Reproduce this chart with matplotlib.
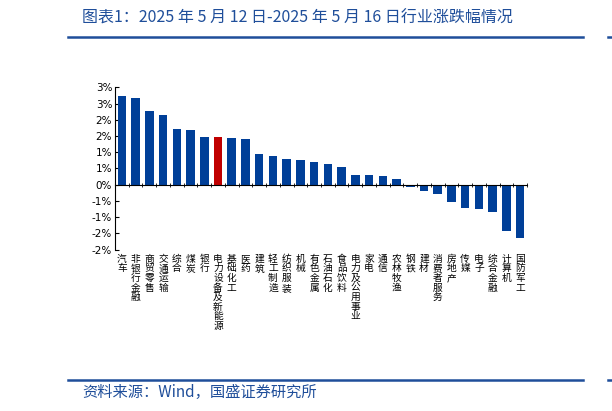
import matplotlib
matplotlib.use("Agg")
import math
import matplotlib.pyplot as plt
import numpy as np
from matplotlib.ticker import FuncFormatter, MultipleLocator

plt.rcParams['font.family'] = ['Noto Sans CJK SC', 'DejaVu Sans']

# data (weekly change, %)
industries = ["汽车", "非银行金融", "商贸零售", "交通运输", "综合", "煤炭", "银行",
              "电力设备及新能源", "基础化工", "医药", "建筑", "轻工制造", "纺织服装",
              "机械", "有色金属", "石油石化", "食品饮料", "电力及公用事业", "家电",
              "通信", "农林牧渔", "钢铁", "建材", "消费者服务", "房地产", "传媒",
              "电子", "综合金融", "计算机", "国防军工"]
changes = [2.73, 2.68, 2.26, 2.15, 1.70, 1.68, 1.46,
           1.48, 1.43, 1.40, 0.93, 0.87, 0.79,
           0.75, 0.70, 0.65, 0.56, 0.31, 0.31,
           0.26, 0.18, -0.07, -0.20, -0.30, -0.53, -0.72,
           -0.75, -0.83, -1.44, -1.65]
highlight = "电力设备及新能源"

title = "图表1：2025 年 5 月 12 日-2025 年 5 月 16 日行业涨跌幅情况"
source = "资料来源：Wind，国盛证券研究所"

BLUE = "#003f98"
RED = "#c00000"
HEAD = "#1f4e9a"


def excel_pct(v, _pos=None):
    # excel style rounding: half away from zero
    r = int(math.floor(abs(v) + 0.5 + 1e-9))
    if r == 0:
        return "0%"
    return f"{'-' if v < 0 else ''}{r}%"


fig = plt.figure(figsize=(6.12, 4.11), dpi=100)
ax = fig.add_axes([115 / 612, 1 - 249.6 / 411, 412 / 612, 162.3 / 411])

x = np.arange(len(industries))
colors = [RED if name == highlight else BLUE for name in industries]
ax.bar(x, changes, width=0.62, color=colors, zorder=2)

ax.set_xlim(-0.5, len(industries) - 0.5)
ax.set_ylim(-2.0, 3.0)
ax.yaxis.set_major_locator(MultipleLocator(0.5))
ax.yaxis.set_major_formatter(FuncFormatter(excel_pct))
ax.tick_params(axis="y", direction="in", length=3, width=0.8, labelsize=7.5, pad=2)
for lbl in ax.get_yticklabels():
    lbl.set_family("DejaVu Sans")

ax.set_xticks(np.arange(-0.5, len(industries), 1))
ax.tick_params(axis="x", direction="inout", length=3, width=0.6, labelbottom=False)

for side in ("top", "right"):
    ax.spines[side].set_visible(False)
ax.spines["bottom"].set_position(("data", 0))
ax.spines["bottom"].set_linewidth(0.8)
ax.spines["left"].set_linewidth(0.8)

# vertical category labels below the plot area
for i, name in enumerate(industries):
    ax.annotate("\n".join(name), xy=(i, 0), xycoords=("data", "axes fraction"),
                xytext=(0, -3), textcoords="offset points",
                ha="center", va="top", fontsize=7, linespacing=0.95)

# header / footer
fig.text(82 / 612, 1 - 18 / 411, title, fontsize=11.5, color=HEAD,
         ha="left", va="center", style="italic")
fig.text(82 / 612, 1 - 392 / 411, source, fontsize=11, color=HEAD,
         ha="left", va="center", style="italic")
for yy in (36.7, 379.5):
    fig.add_artist(plt.Line2D([68 / 612, 583 / 612], [1 - yy / 411] * 2,
                              color=HEAD, lw=1.8))
    fig.add_artist(plt.Line2D([608 / 612, 1.0], [1 - yy / 411] * 2,
                              color=HEAD, lw=1.8))

fig.savefig("out.png", dpi=100)
